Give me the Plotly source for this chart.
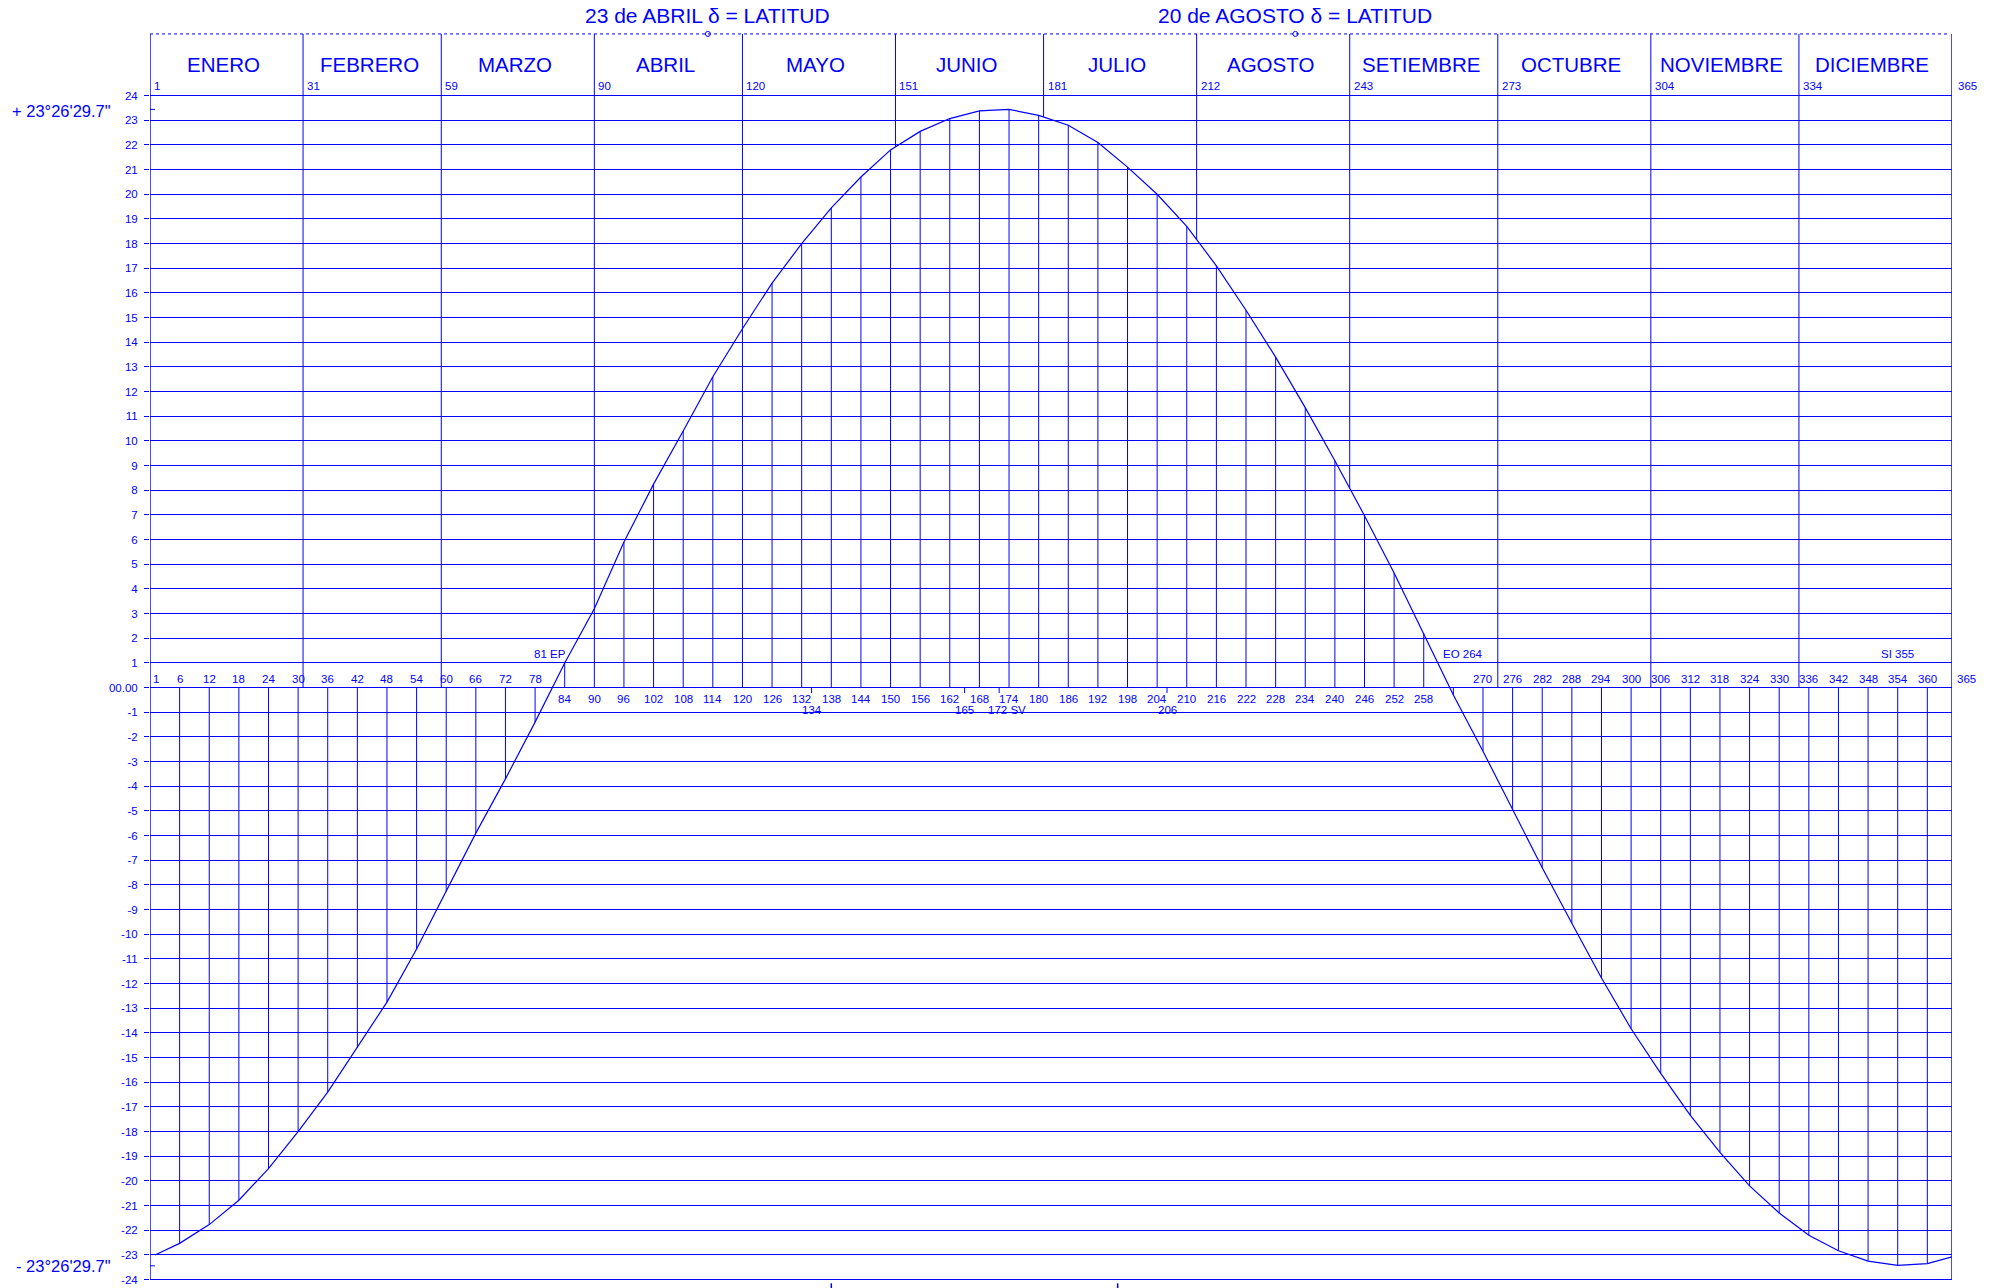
import numpy as np
import plotly.graph_objects as go

BLUE = "#0000ff"
FONT = "Liberation Sans, Arial, Helvetica, sans-serif"

# Solar declination (degrees) sampled every six days through the year
days = [1, 6, 12, 18, 24, 30, 36, 42, 48, 54,
        60, 66, 72, 78, 84, 90, 96, 102, 108, 114,
        120, 126, 132, 138, 144, 150, 156, 162, 168, 174,
        180, 186, 192, 198, 204, 210, 216, 222, 228, 234,
        240, 246, 252, 258, 264, 270, 276, 282, 288, 294,
        300, 306, 312, 318, 324, 330, 336, 342, 348, 354,
        360, 365]
declination = [-23.0, -22.53, -21.77, -20.78, -19.5, -18.0, -16.4, -14.6, -12.75, -10.6,
               -8.26, -5.9, -3.7, -1.4, 1.0, 3.2, 5.9, 8.25, 10.4, 12.6,
               14.55, 16.4, 18.0, 19.45, 20.7, 21.8, 22.55, 23.07, 23.38, 23.44,
               23.2, 22.8, 22.1, 21.1, 20.0, 18.7, 17.1, 15.3, 13.4, 11.35,
               9.2, 6.97, 4.65, 2.2, -0.3, -2.58, -4.95, -7.3, -9.55, -11.77,
               -13.83, -15.64, -17.34, -18.84, -20.2, -21.3, -22.2, -22.83, -23.25, -23.42,
               -23.35, -23.08]

# Calendar
month_start = [1, 31, 59, 90, 120, 151, 181, 212, 243, 273, 304, 334, 365]
month_names = ["ENERO", "FEBRERO", "MARZO", "ABRIL", "MAYO", "JUNIO", "JULIO",
               "AGOSTO", "SETIEMBRE", "OCTUBRE", "NOVIEMBRE", "DICIEMBRE"]

# Degree scale
y_ticks = list(range(-24, 25))
y_tick_text = ["00.00" if v == 0 else str(v) for v in y_ticks]
tropic = 23.4416  # 23°26'29.7"
tropic_labels = ['+ 23°26\'29.7"', '- 23°26\'29.7"']

# Equinoxes / solstices
season_days = [81, 264, 355]
season_labels = ["81 EP", "EO 264", "SI 355"]
season_shift = [0, 10, -5]

# Days marked on the zero line
marker_days = [134, 165, 172, 206]
marker_labels = ["134", "165", "172 SV", "206"]

# Days where declination equals the latitude
latitude_days = [113, 232]
latitude_titles = ["23 de ABRIL δ = LATITUD", "20 de AGOSTO δ = LATITUD"]

# Marks below the frame
south_marks = [138, 196]

# Frame: the left side stands for the start of the year
X_LEFT = 0
X_RIGHT = 365
Y_TOP = 26.66
Y_BOTTOM = -24.34
Y_DOT = 26.5

fig = go.Figure()


def segments(pairs):
    xs, ys = [], []
    for (x0, y0, x1, y1) in pairs:
        xs += [x0, x1, None]
        ys += [y0, y1, None]
    return xs, ys


def add_lines(pairs, width=1.0, dash=None):
    xs, ys = segments(pairs)
    fig.add_trace(go.Scatter(x=xs, y=ys, mode="lines", hoverinfo="skip",
                             line=dict(color=BLUE, width=width, dash=dash),
                             showlegend=False))


# ordinates from the zero line to the curve
add_lines([(d, 0, d, v) for d, v in zip(days[1:-1], declination[1:-1])], width=1.0)

# month dividers, from the header down to the curve (or the zero line)
month_pairs = []
for m in month_start[1:-1]:
    end = max(float(np.interp(m, days, declination)), 0.0)
    month_pairs.append((m, Y_DOT, m, end))
add_lines(month_pairs, width=1.0)

# frame sides
add_lines([(X_LEFT, Y_DOT, X_LEFT, -24),
           (X_RIGHT, Y_DOT, X_RIGHT, -24)], width=1.4)

# tropic marks on the left side
add_lines([(X_LEFT - 1, tropic, X_LEFT + 1, tropic),
           (X_LEFT - 1, -tropic, X_LEFT + 1, -tropic)], width=1.0)

# small ticks on the zero line
add_lines([(d, 0, d, -0.22) for d in marker_days], width=1.0)
add_lines([(d, -24.15, d, Y_BOTTOM) for d in south_marks], width=1.5)

# dotted header line
fig.add_trace(go.Scatter(x=[X_LEFT, X_RIGHT - 1], y=[Y_DOT, Y_DOT],
                         mode="lines", hoverinfo="skip", showlegend=False,
                         line=dict(color=BLUE, width=1, dash="dot")))
fig.add_trace(go.Scatter(x=latitude_days, y=[Y_DOT] * len(latitude_days),
                         mode="markers", hoverinfo="skip", showlegend=False,
                         marker=dict(symbol="circle-open", size=5, color=BLUE,
                                     line=dict(width=1, color=BLUE))))

# declination curve
fig.add_trace(go.Scatter(x=days, y=declination, mode="lines", hoverinfo="skip",
                         showlegend=False, line=dict(color=BLUE, width=1.2)))

ann = []


def label(text, x, y, size, xanchor="center", yanchor="middle", xshift=0, yshift=0):
    ann.append(dict(text=text, x=x, y=y, xref="x", yref="y", showarrow=False,
                    xanchor=xanchor, yanchor=yanchor, xshift=xshift, yshift=yshift,
                    font=dict(family=FONT, size=size, color=BLUE)))


# titles over the header
for d, t in zip(latitude_days, latitude_titles):
    label(t, d, Y_TOP, 21, yanchor="bottom", yshift=1)

# month names and first-day numbers
bounds = [X_LEFT] + month_start[1:]
for i, name in enumerate(month_names):
    label(name, (bounds[i] + bounds[i + 1]) / 2, 25.28, 20.5, xshift=-3)
    label(str(month_start[i]), bounds[i], 24, 11.5, xanchor="left", yanchor="bottom",
          xshift=2, yshift=2)
label(str(month_start[-1]), X_RIGHT, 24, 11.5, xanchor="left", yanchor="bottom",
      xshift=4, yshift=2)

# day numbers along the zero line
label(str(days[0]), X_LEFT, 0, 11.5, xanchor="left", yanchor="bottom", xshift=1, yshift=1)
for d, v in zip(days[1:-1], declination[1:-1]):
    if d in season_days:
        continue
    if v < 0:
        label(str(d), d, 0, 11.5, yanchor="bottom", yshift=1)
    else:
        label(str(d), d, 0, 11.5, yanchor="top", yshift=-3)
label(str(days[-1]), X_RIGHT, 0, 11.5, xanchor="left", yanchor="bottom", xshift=3, yshift=1)

for d, t in zip(marker_days, marker_labels):
    if " " in t:
        label(t, d, 0, 11.5, xanchor="left", yanchor="top", xshift=-13, yshift=-14)
    else:
        label(t, d, 0, 11.5, yanchor="top", yshift=-14)

for d, t, s in zip(season_days, season_labels, season_shift):
    label(t, d, 1, 11.5, yanchor="bottom", xshift=s, yshift=1)

# tropic values
label(tropic_labels[0], X_LEFT, tropic, 16.5, xanchor="right", xshift=-37, yshift=-2)
label(tropic_labels[1], X_LEFT, -tropic, 16.5, xanchor="right", xshift=-37, yshift=0)

fig.update_layout(
    width=1998, height=1288, autosize=False,
    margin=dict(l=150, r=46, t=30, b=0),
    paper_bgcolor="white", plot_bgcolor="white",
    annotations=ann,
    font=dict(family=FONT, color=BLUE),
    xaxis=dict(range=[X_LEFT, X_RIGHT], showgrid=False, zeroline=False,
               showticklabels=False, ticks="", showline=False, fixedrange=True),
    yaxis=dict(range=[Y_BOTTOM, Y_TOP], tickmode="array", tickvals=y_ticks,
               ticktext=y_tick_text, showgrid=True, gridcolor=BLUE, gridwidth=1.3,
               zeroline=False, showline=False, ticks="outside", ticklen=5,
               tickcolor=BLUE, tickwidth=1.3, ticklabelstandoff=4,
               tickfont=dict(family=FONT, size=11.5, color=BLUE), fixedrange=True),
)

fig.write_html("out.html")
